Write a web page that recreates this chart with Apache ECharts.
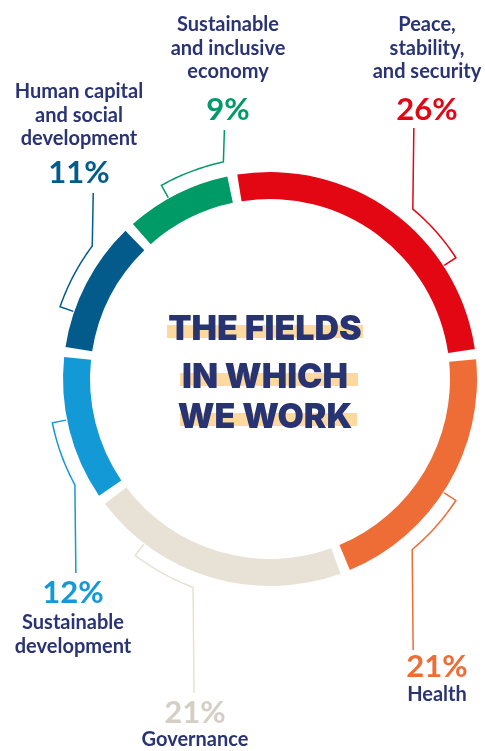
<!DOCTYPE html>
<html>
<head>
<meta charset="utf-8">
<script src="https://cdn.jsdelivr.net/npm/echarts@6/dist/echarts.min.js"></script>
<style>
html,body{margin:0;padding:0;background:#fff;}
#c{width:485px;height:751px;}
</style>
</head>
<body>
<div id="c"></div>
<script>
// ---- data ----
const categories = ['Peace,\nstability,\nand security', 'Health', 'Governance', 'Sustainable\ndevelopment', 'Human capital\nand social\ndevelopment', 'Sustainable\nand inclusive\neconomy'];
const values = [26, 21, 21, 12, 11, 9];
const colors = ['#E30613', '#EE6C35', '#E8E1D6', '#1399D6', '#035B8C', '#009A67'];
const percentColors = ['#E30613', '#EE6C35', '#D4CFC5', '#1399D6', '#035B8C', '#009A67'];
const titleLines = ['THE FIELDS', 'IN WHICH', 'WE WORK'];

// ---- layout ----
const CX = 270, CY = 379, R_IN = 180, R_OUT = 207, R_BR = 222;
const START_FROM_TOP = -10.5; // degrees, clockwise from 12 o'clock
const NAVY = '#2A3474';
const bracket = [[0.72, 0.54], [0.53, 0.755], [0.776, 0.55], [0.5625, 0.167], [0.29, 0.74], [0.42, 0.95]];
const leaderEndY = [128, 650, 693, 573, 193, 130];
const labelPos = [
  {x: 427, nameTop: 13, pctY: 110},
  {x: 437, nameTop: 683, pctY: 667},
  {x: 195, nameTop: 728, pctY: 713},
  {x: 73, nameTop: 611, pctY: 593},
  {x: 79, nameTop: 80, pctY: 173},
  {x: 228, nameTop: 13, pctY: 110}
];
const titleY = [330, 378, 418];
const barSpan = [[167, 363], [180, 358], [180, 357]];

const total = values.reduce((a, b) => a + b, 0);
function pt(deg, r) {
  const a = deg * Math.PI / 180;
  return [CX + r * Math.sin(a), CY - r * Math.cos(a)];
}

const graphics = [];
let acc = START_FROM_TOP;
values.forEach((v, i) => {
  const span = v / total * 360;
  const tickA = acc + span * bracket[i][0];
  const leadA = acc + span * bracket[i][1];
  const pts = [pt(tickA, R_OUT + 1), pt(tickA, R_BR)];
  const n = 24;
  for (let k = 1; k <= n; k++) pts.push(pt(tickA + (leadA - tickA) * k / n, R_BR));
  const last = pts[pts.length - 1];
  pts.push([last[0] + 1, leaderEndY[i]]);
  graphics.push({type: 'polyline', shape: {points: pts}, style: {stroke: colors[i], lineWidth: 1.5, fill: null}, z: 5});
  acc += span;
  const lp = labelPos[i];
  graphics.push({type: 'text', x: lp.x, y: lp.pctY, style: {text: v + '%', fill: percentColors[i], font: 'bold 31px Lato', align: 'center', verticalAlign: 'middle'}, z: 10});
  graphics.push({type: 'text', x: lp.x, y: lp.nameTop, style: {text: categories[i], fill: NAVY, font: 'bold 20px Lato', lineHeight: 23.5, align: 'center', verticalAlign: 'top'}, z: 10});
});

titleLines.forEach((t, i) => {
  graphics.push({type: 'rect', shape: {x: barSpan[i][0], y: titleY[i] - 5, width: barSpan[i][1] - barSpan[i][0], height: 13}, style: {fill: '#FDD9A0'}, z: 8});
  graphics.push({type: 'text', x: 265, y: titleY[i], style: {text: t, fill: '#283372', font: '900 34px Inter', align: 'center', verticalAlign: 'middle'}, z: 10});
});

const chart = echarts.init(document.getElementById('c'), null, {renderer: 'canvas'});
chart.setOption({
  animation: false,
  series: [{
    type: 'pie',
    center: [CX, CY],
    radius: [R_IN, R_OUT],
    startAngle: 90 - START_FROM_TOP,
    clockwise: true,
    padAngle: 2.8,
    silent: true,
    label: {show: false},
    labelLine: {show: false},
    data: values.map((v, i) => ({name: categories[i], value: v, itemStyle: {color: colors[i]}}))
  }],
  graphic: graphics
});
</script>
</body>
</html>
